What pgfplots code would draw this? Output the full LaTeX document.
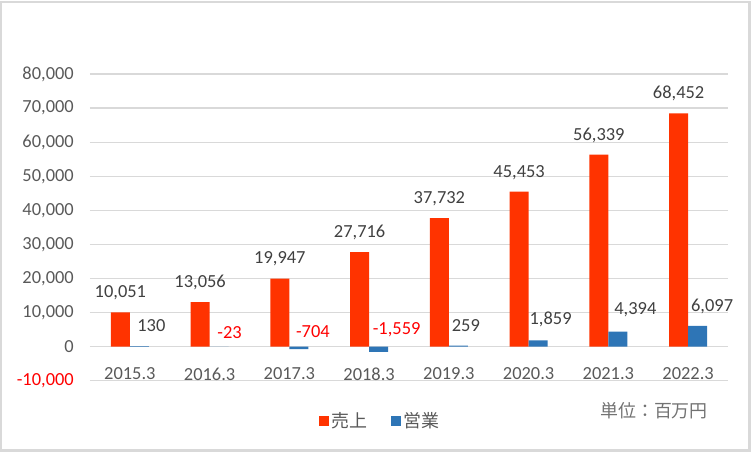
\documentclass[border=0pt]{standalone}
\usepackage{pgfplots}
\pgfplotsset{compat=1.18}
\usepackage{pgfplotstable}
\usepackage{fontspec}
\setmainfont{Carlito}
\newfontfamily\cjk{Noto Sans CJK JP}
\definecolor{barred}{HTML}{FF3300}
\definecolor{barblue}{HTML}{2E75B6}
\definecolor{negred}{HTML}{FF0000}
\definecolor{txt}{HTML}{595959}
\definecolor{lbl}{HTML}{404040}
\definecolor{gridc}{HTML}{D9D9D9}
\newcommand\nr[1]{\textcolor{negred}{#1}}

\pgfplotstableread{
x y label
0 10051 10,051
1 13056 13,056
2 19947 19,947
3 27716 27,716
4 37732 37,732
5 45453 45,453
6 56339 56,339
7 68452 68,452
}\sales

\pgfplotstableread{
x y label dx dy
0 130 130 12 20.6
1 -23 \nr{-23} 10.5 14
2 -704 \nr{-704} 14 17.7
3 -1559 \nr{-1,559} 18 22.3
4 259 259 7.5 20
5 1859 1,859 12.5 20.6
6 4394 4,394 17.5 22
7 6097 6,097 14.5 19.4
}\op

\begin{document}
\fontsize{18.5}{22}\selectfont
\begin{tikzpicture}[x=1bp,y=1bp]
\begin{axis}[
  name=ax,
  scale only axis, width=638bp, height=306.7bp,
  xmin=-0.5, xmax=7.5,
  ymin=-10000, ymax=80000,
  scaled y ticks=false,
  xtick={0,...,7},
  xticklabels={2015.3,2016.3,2017.3,2018.3,2019.3,2020.3,2021.3,2022.3},
  ytick={-10000,0,10000,20000,30000,40000,50000,60000,70000,80000},
  yticklabels={{\textcolor{negred}{-10,000}},0,{10,000},{20,000},{30,000},{40,000},{50,000},{60,000},{70,000},{80,000}},
  ymajorgrids, major grid style={gridc, line width=1.3bp},
  axis line style={draw=none}, tick style={draw=none},
  ticklabel style={font=\fontsize{18.5}{22}\selectfont, text=txt},
  yticklabel style={anchor=east, inner sep=0pt, xshift=-16bp},
  xticklabel style={anchor=center, inner sep=0pt, yshift=11bp},
  ybar=0bp, bar width=19bp,
  clip=false,
  legend columns=2,
  legend style={at={(0.455,-0.132)}, anchor=center, draw=none, fill=none,
    font=\cjk\fontsize{18}{22}\selectfont, text=txt,
    /tikz/every even column/.append style={column sep=22bp}},
  legend image code/.code={\fill[#1] (0bp,-5bp) rectangle (10bp,5bp);},
]
\addplot[fill=barred, draw=none,
  nodes near coords, point meta=explicit symbolic,
  nodes near coords style={anchor=center, inner sep=0pt, yshift=19.5bp, text=lbl, font=\fontsize{18.5}{22}\selectfont}]
  table[x=x, y=y, meta=label] {\sales};
\addlegendentry{売上}
\addplot[fill=barblue, draw=none,
  nodes near coords, point meta=explicit symbolic,
  visualization depends on={\thisrow{dx} \as \ldx},
  visualization depends on={\thisrow{dy} \as \ldy},
  nodes near coords style={anchor=center, inner sep=0pt, xshift=\ldx bp, yshift=\ldy bp, text=lbl, font=\fontsize{18.5}{22}\selectfont}]
  table[x=x, y=y, meta=label] {\op};
\addlegendentry{営業}
\end{axis}
\node[anchor=west, text=txt!85, inner sep=0pt, font=\cjk\fontsize{18}{22}\selectfont] at ([shift={(510,-30.3)}]ax.south west) {単位：百万円};
\pgfresetboundingbox
\useasboundingbox ([shift={(-90,-71.3)}]ax.south west) rectangle ([shift={(662,380.7)}]ax.south west);
\draw[gridc, line width=2.5bp] ([shift={(-88.75,-70.05)}]ax.south west) rectangle ([shift={(659.5,378.45)}]ax.south west);
\end{tikzpicture}
\end{document}
